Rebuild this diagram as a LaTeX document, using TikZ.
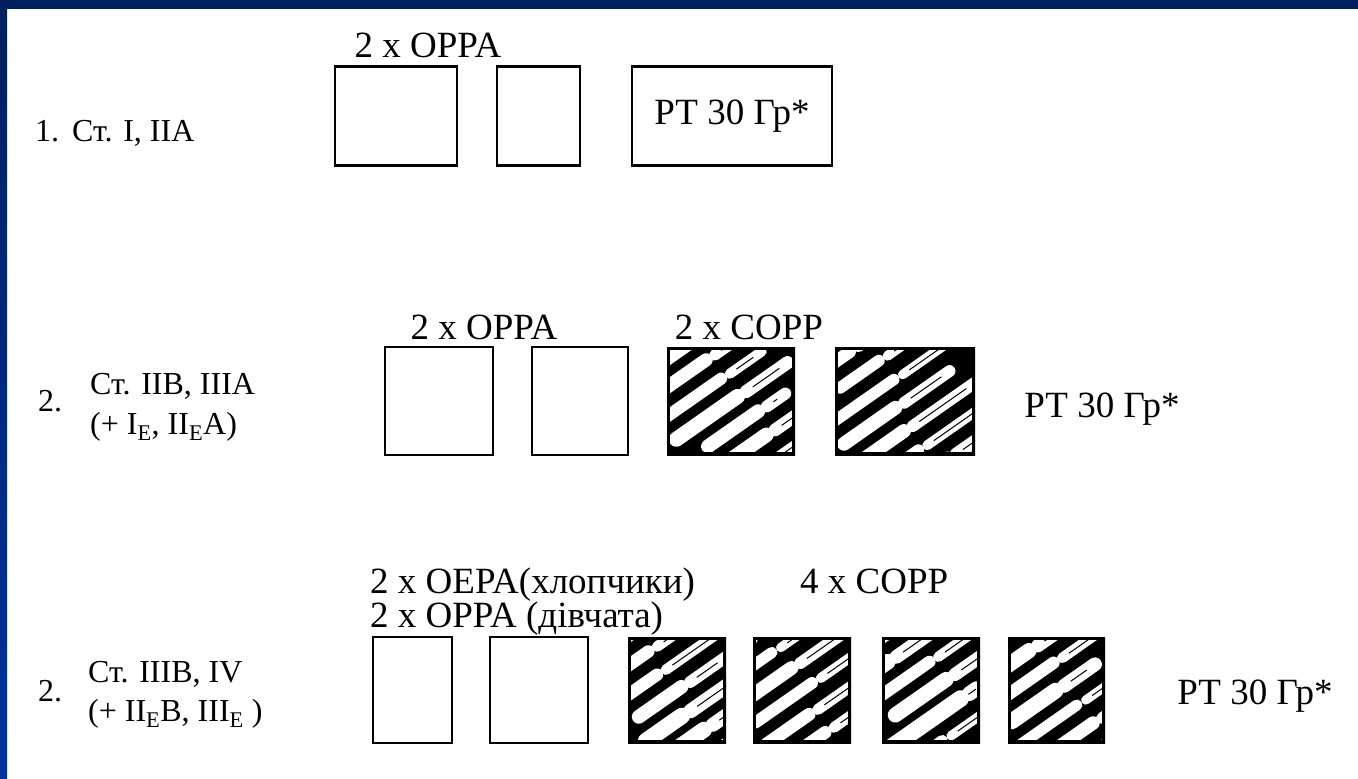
\documentclass[tikz,border=0pt]{standalone}
\usepackage{fontspec}
\setmainfont{Liberation Serif}
\usetikzlibrary{calc}

\definecolor{ramka}{RGB}{0,31,95}
\definecolor{ramkaniz}{RGB}{0,51,160}

% смуги в заштрихованих квадратах
\newcommand{\smuhy}{%
  \coordinate (c) at (path picture bounding box.center);
  \foreach \p in {-72,-48,...,72} {
    \pgfmathsetmacro\a{-82+45*rnd}
    \pgfmathsetmacro\m{-20+40*rnd}
    \pgfmathsetmacro\b{82-45*rnd}
    \pgfmathsetmacro\w{11+6*rnd}
    \draw[white, line width=\w pt, line cap=round] ($(c)+(55:\p)+(-35:\a)$) -- ($(c)+(55:\p)+(-35:\m)$);
    \draw[white, line width=\w pt-2pt, line cap=round] ($(c)+(55:\p+1)+(-35:\m+10)$) -- ($(c)+(55:\p+1)+(-35:\b)$);
    \draw[black, line width=1pt] ($(c)+(55:\p+1)+(-35:\m+18)$) -- ($(c)+(55:\p+1)+(-35:\b-10)$);
  }
  \draw[black, line width=6pt] (path picture bounding box.south west) rectangle (path picture bounding box.north east);}

\tikzset{
  txt/.style={font=\fontsize{37}{42}\selectfont, inner sep=0pt},
  lbl/.style={font=\fontsize{32}{38}\selectfont, inner sep=0pt, anchor=base west},
  kvadr/.style={draw, line width=2.2pt, inner sep=0pt, minimum height=#1},
  kvadr/.default=99pt,
  copp/.style={fill=black, inner sep=0pt, minimum height=#1, path picture={\smuhy}},
  copp/.default=108pt,
}

\begin{document}
\begin{tikzpicture}[x=1pt, y=-1pt]
  \pgfmathsetseed{11}
  \useasboundingbox (0,0) rectangle (1358,779);

  % Рамка
  \fill[white] (0,0) rectangle (1358,779);
  \fill[ramka] (0,0) rectangle (1358,9);
  \shade[top color=ramka, bottom color=ramkaniz] (0,9) rectangle (7,779);

  % Рядок 1
  \node[lbl] (n1) at (35,141) {1.};
  \node[lbl] (st1) at (72,141) {Ст. I, IIA};
  \node[txt, anchor=base] (or1) at (428,57) {2 x OPPA};
  \node[kvadr, minimum width=122pt] (k11) at (396,116) {};
  \node[kvadr, minimum width=83pt] (k12) at (538.5,116) {};
  \node[kvadr, txt, minimum width=200pt, minimum height=99pt] (rt1) at (732,116) {РТ 30 Гр*};

  % Рядок 2
  \node[lbl] (n2) at (38,411) {2.};
  \node[lbl] (st2) at (90,394) {Ст. IIB, IIIA};
  \node[lbl] (ie2) at (90,434) {(+ I\textsubscript{E}, II\textsubscript{E}A)};
  \node[txt, anchor=base] (or2) at (484,339) {2 x OPPA};
  \node[txt, anchor=base] (co2) at (749,339) {2 x COPP};
  \node[kvadr=108pt, minimum width=108pt] (k21) at (439,401) {};
  \node[kvadr=108pt, minimum width=96pt] (k22) at (580,401) {};
  \node[copp, minimum width=128pt] (c21) at (731,401) {};
  \node[copp, minimum width=140pt] (c22) at (905,401) {};
  \node[txt, anchor=base] (rt2) at (1102,417) {РТ 30 Гр*};

  % Рядок 3
  \node[lbl] (n3) at (38,701) {2.};
  \node[lbl] (st3) at (88,682) {Ст. IIIB, IV};
  \node[lbl] (ie3) at (88,721) {(+ II\textsubscript{E}B, III\textsubscript{E} )};
  \node[txt, anchor=base west] (oe3) at (370,593) {2 x OEPA(хлопчики)};
  \node[txt, anchor=base west] (or3) at (370,627) {2 x OPPA (дівчата)};
  \node[txt, anchor=base west] (co3) at (800,593) {4 x COPP};
  \node[kvadr=106pt, minimum width=79pt] (k31) at (412.5,690) {};
  \node[kvadr=106pt, minimum width=98pt] (k32) at (539,690) {};
  \node[copp=106pt, minimum width=98pt] (c31) at (677,690) {};
  \node[copp=106pt, minimum width=98pt] (c32) at (802,690) {};
  \node[copp=106pt, minimum width=98pt] (c33) at (931,690) {};
  \node[copp=106pt, minimum width=97pt] (c34) at (1056.5,690) {};
  \node[txt, anchor=base] (rt3) at (1255,704) {РТ 30 Гр*};
\end{tikzpicture}
\end{document}
